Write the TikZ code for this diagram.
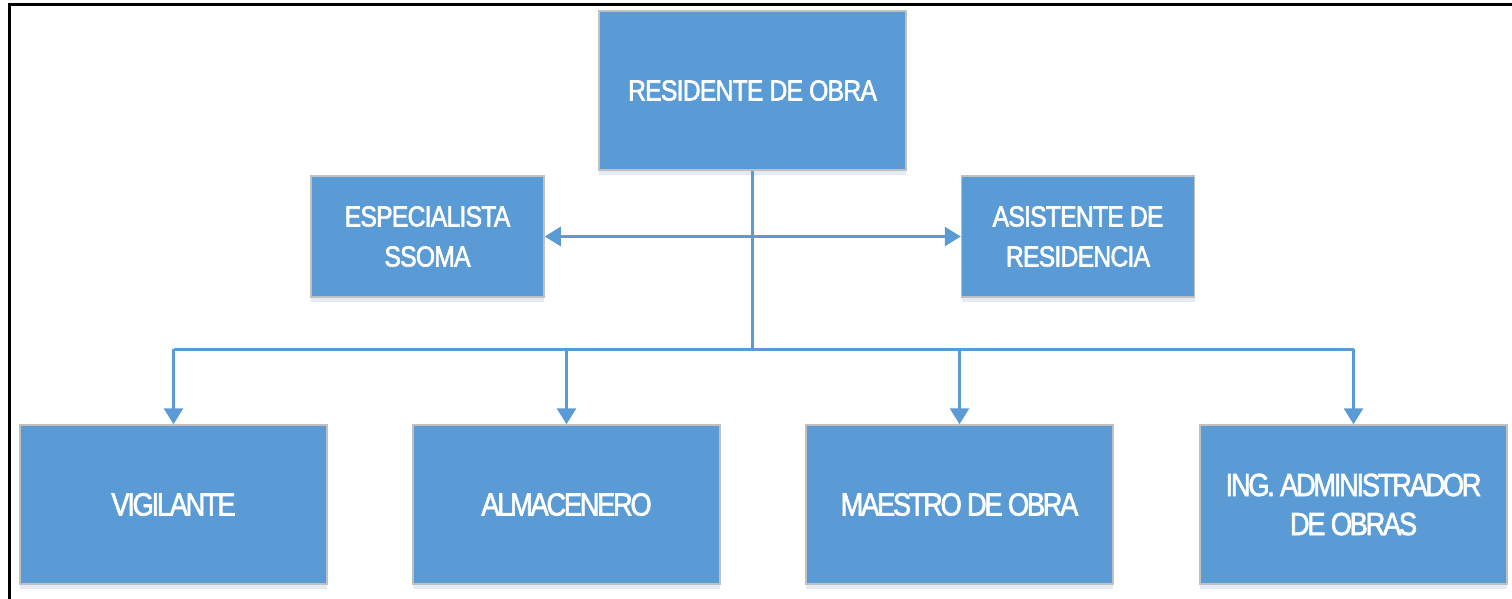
\documentclass[tikz,border=0pt]{standalone}
\usepackage{fontspec}
\newfontfamily\topfont{Liberation Sans}[FakeStretch=0.85, LetterSpace=-2.5, FakeBold=2]
\newfontfamily\botfont{Liberation Sans}[FakeStretch=0.85, LetterSpace=-7, FakeBold=2]
\usetikzlibrary{arrows.meta,shadows}
\definecolor{boxblue}{HTML}{5B9BD5}
\definecolor{boxedge}{HTML}{C0C0C0}
\definecolor{shadowc}{HTML}{C9D8EC}
\tikzset{
  orgbox/.style={rectangle, fill=boxblue, draw=boxedge, line width=1.5pt,
    text=white, align=center, inner sep=0pt,
    drop shadow={shadow xshift=0pt, shadow yshift=-5pt, fill=shadowc, opacity=0.5}},
  topbox/.style={orgbox, minimum width=307pt, minimum height=159pt,
    font=\topfont\fontsize{29}{40}\selectfont},
  midbox/.style={orgbox, minimum width=233pt, minimum height=121pt,
    font=\topfont\fontsize{29}{40}\selectfont},
  botbox/.style={orgbox, minimum width=307pt, minimum height=159pt,
    font=\botfont\fontsize{32}{39}\selectfont},
  conn/.style={draw=boxblue, line width=3pt},
  arr/.style={conn, -{Triangle[length=16pt,width=19pt]}},
}
\begin{document}
\begin{tikzpicture}[x=1pt,y=-1pt]
\useasboundingbox (0,0) rectangle (1512,599);
% frame
\draw[line width=3pt, black] (9.5,599) -- (9.5,4.5) -- (1512,4.5);
% boxes
\node[topbox] (res) at (752.5,90.5) {RESIDENTE DE OBRA};
\node[midbox] (esp) at (427.5,236.5) {ESPECIALISTA\\SSOMA};
\node[midbox] (asi) at (1078,236.5) {ASISTENTE DE\\RESIDENCIA};
\node[botbox] (vig) at (173.5,504.5) {VIGILANTE};
\node[botbox] (alm) at (566.5,504.5) {ALMACENERO};
\node[botbox] (mae) at (959.5,504.5) {MAESTRO DE OBRA};
\node[botbox] (ing) at (1353.5,504.5) {ING. ADMINISTRADOR\\DE OBRAS};
% connectors
\coordinate (mid) at (752.5,236.5);
\coordinate (bus) at (752.5,349);
\draw[conn] (res.south) -- (bus);
\draw[arr] (mid) -- (esp.east);
\draw[arr] (mid) -- (asi.west);
\draw[conn] (vig.north |- bus) -- (ing.north |- bus);
\draw[arr] (vig.north |- bus) -- (vig.north);
\draw[arr] (alm.north |- bus) -- (alm.north);
\draw[arr] (mae.north |- bus) -- (mae.north);
\draw[arr] (ing.north |- bus) -- (ing.north);
\end{tikzpicture}
\end{document}
